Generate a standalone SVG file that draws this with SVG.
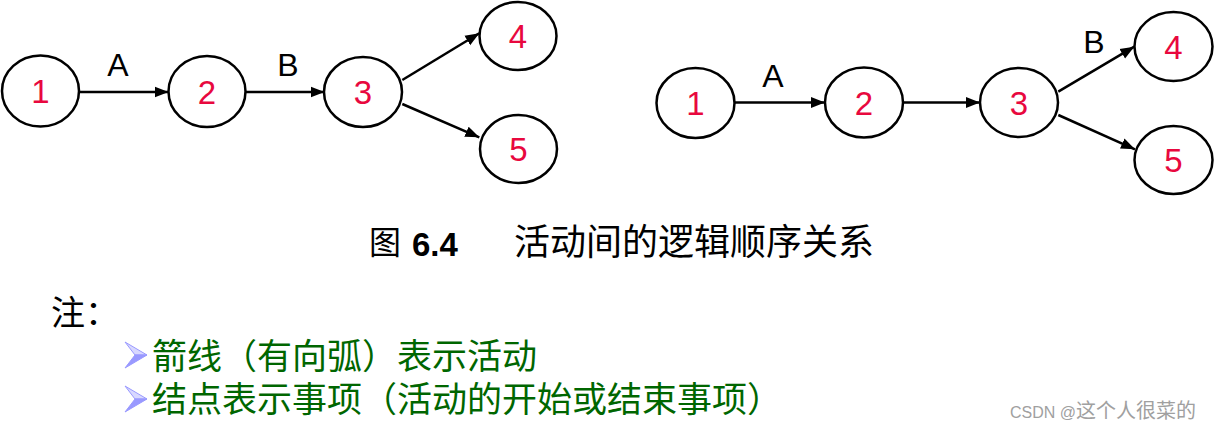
<svg xmlns="http://www.w3.org/2000/svg" width="1215" height="430" viewBox="0 0 1215 430">
<style>
.node ellipse{fill:#fff;stroke:#000;stroke-width:2.5}
.node text{font-family:"Liberation Sans",Arial,sans-serif;font-size:33px;fill:#e8083e;text-anchor:middle}
.edge line{stroke:#000;stroke-width:2.5;marker-end:url(#arr)}
.lbl{font-family:"Liberation Sans",Arial,sans-serif;font-size:32px;fill:#000;text-anchor:middle}
.cjk{font-family:"Noto Sans CJK SC","Noto Sans",sans-serif}
.note{font-size:35px;fill:#006600}
</style>
<defs>
<marker id="arr" markerUnits="userSpaceOnUse" markerWidth="15" markerHeight="12" refX="14" refY="6" orient="auto" viewBox="0 0 15 12">
<path d="M0,0.5 L14,6 L0,11.5 z" fill="#000"/>
</marker>
<g id="bullet">
<polygon points="0,0 22,13 10,13" fill="#d8d8ff" stroke="#9999ff" stroke-width="1"/>
<polygon points="0,26 22,13 10,13" fill="#9999ff" stroke="#9999ff" stroke-width="1"/>
</g>
</defs>
<g id="connectors">
<g class="edge">
<line x1="79" y1="92" x2="168.5" y2="92"/>
<line x1="245.5" y1="92" x2="324.5" y2="92"/>
<line x1="402.3" y1="80" x2="479.3" y2="33.3"/>
<line x1="402.3" y1="104" x2="479.3" y2="137.3"/>
<line x1="735" y1="102.5" x2="825" y2="102.5"/>
<line x1="903" y1="102.5" x2="980" y2="102.5"/>
<line x1="1058.3" y1="91.7" x2="1134.3" y2="46.7"/>
<line x1="1058.3" y1="115" x2="1135" y2="149.3"/>
</g>
<text class="lbl" x="118" y="76">A</text>
<text class="lbl" x="288" y="76">B</text>
<text class="lbl" x="773" y="87">A</text>
<text class="lbl" x="1094" y="53">B</text>
</g>
<g id="L1" class="node"><ellipse cx="40.5" cy="91" rx="38.5" ry="35.5"/><text x="40.5" y="103">1</text></g>
<g id="L2" class="node"><ellipse cx="207" cy="91.5" rx="38.5" ry="35.5"/><text x="207" y="103.5">2</text></g>
<g id="L3" class="node"><ellipse cx="363" cy="92" rx="39" ry="35"/><text x="363" y="104">3</text></g>
<g id="L4" class="node"><ellipse cx="518" cy="36" rx="38.5" ry="34"/><text x="518" y="48">4</text></g>
<g id="L5" class="node"><ellipse cx="518.5" cy="149" rx="38.5" ry="34"/><text x="518.5" y="161">5</text></g>
<g id="R1" class="node"><ellipse cx="695.5" cy="103" rx="39" ry="35"/><text x="695.5" y="115">1</text></g>
<g id="R2" class="node"><ellipse cx="864" cy="102.5" rx="39" ry="35"/><text x="864" y="114.5">2</text></g>
<g id="R3" class="node"><ellipse cx="1019" cy="102.5" rx="39" ry="34.5"/><text x="1019" y="114.5">3</text></g>
<g id="R4" class="node"><ellipse cx="1173.5" cy="46.5" rx="39" ry="34.5"/><text x="1173.5" y="58.5">4</text></g>
<g id="R5" class="node"><ellipse cx="1173.5" cy="160" rx="39" ry="34"/><text x="1173.5" y="172">5</text></g>
<g id="caption">
<text class="cjk" x="369" y="254" font-size="32" fill="#000">图</text>
<text x="412" y="256" font-family="Liberation Sans,Arial,sans-serif" font-weight="bold" font-size="33" fill="#000">6.4</text>
<text class="cjk" x="514" y="254.5" font-size="36" fill="#000">活动间的逻辑顺序关系</text>
</g>
<g id="notes">
<text class="cjk" x="51" y="325" font-size="34" fill="#000">注：</text>
<use href="#bullet" x="125" y="342"/>
<text class="cjk note" x="152" y="369">箭线（有向弧）表示活动</text>
<use href="#bullet" x="125" y="386"/>
<text class="cjk note" x="152" y="412">结点表示事项（活动的开始或结束事项）</text>
</g>
<text x="1010" y="418" font-family="Liberation Sans,'Noto Sans CJK SC',sans-serif" font-size="16" fill="#a0a0a0">CSDN @<tspan class="cjk" font-size="20">这个人很菜的</tspan></text>
</svg>
